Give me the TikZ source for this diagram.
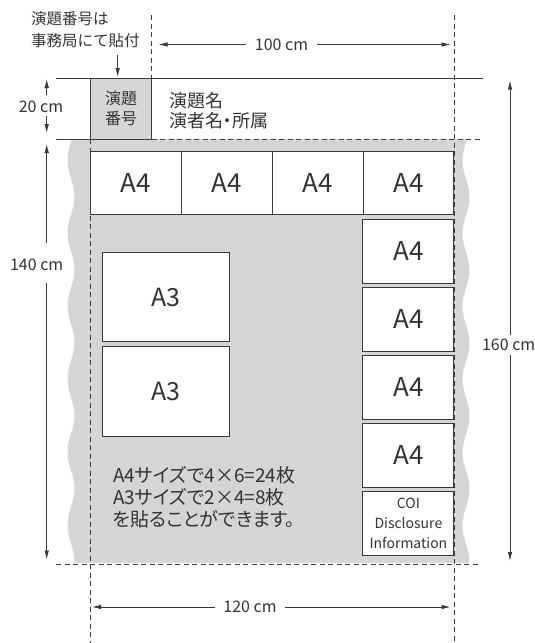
\documentclass[tikz,border=0pt]{standalone}
\usepackage{fontspec}
\setmainfont{Noto Sans CJK JP}
\usetikzlibrary{arrows.meta}

\definecolor{linecol}{HTML}{3A3A3A}
\definecolor{textcol}{HTML}{333333}
\definecolor{panelgray}{HTML}{D4D5D7}
\definecolor{hdrgray}{HTML}{D6D6D8}

\tikzset{
  dimarrow/.style={-{Latex[length=9pt,width=4.5pt]}, line width=0.8pt, draw=linecol},
  dimlabel/.style={font=\fontsize{16}{18}\selectfont, text=textcol, inner sep=0pt},
  guide/.style={draw=linecol, line width=0.8pt, dash pattern=on 5pt off 3.5pt},
  rule/.style={draw=linecol, line width=0.9pt},
  sheet/.style={draw=linecol, fill=white, line width=0.9pt, inner sep=0pt, text=textcol},
  a4box/.style={sheet, minimum width=90.75pt, minimum height=62.8pt,
    font=\fontsize{26}{30}\selectfont},
  a3box/.style={sheet, minimum width=127pt, minimum height=89.4pt,
    font=\fontsize{25}{30}\selectfont},
  hdrbox/.style={sheet, fill=hdrgray, minimum width=60.8pt, minimum height=60.5pt,
    align=center, font=\fontsize{16}{20}\selectfont},
  note/.style={text=textcol, inner sep=0pt, align=left}
}

\begin{document}
\begin{tikzpicture}[x=1pt,y=-1pt]
\useasboundingbox (0,0) rectangle (535,643);

% board area with wavy sides
\fill[panelgray] plot[domain=139:563, samples=120, smooth] ({71-3.5*cos((\x-160)/73*360)}, \x)
  -- plot[domain=563:139, samples=120, smooth] ({466+3.5*cos((\x-197)/73*360)}, \x) -- cycle;

% header rules
\draw[rule] (56,78.5) -- (483,78.5);
\draw[rule] (56,139) -- (151.5,139);
\draw[guide] (151.5,139) -- (481,139);
\draw[guide] (56,564) -- (478,564);

% guide lines
\draw[guide] (151,15) -- (151,78.5);
\draw[guide] (454,15) -- (454,643);
\draw[guide] (90.7,139) -- (90.7,643);

% header
\node[hdrbox] (hbox) at (121.1,108.75) {演題\\番号};
\node[note, anchor=west, font=\fontsize{18}{20.3}\selectfont\addfontfeature{RawFeature=+palt}] (title) at (169,111) {演題名\\演者名・所属};
\node[note, anchor=west, font=\fontsize{15.5}{22}\selectfont] (intro) at (31,30) {演題番号は\\事務局にて貼付};
\coordinate (pinA) at (117.7,54.5);
\coordinate (pinB) at (117.7,77);
\draw[dimarrow] (pinA) -- (pinB);

% A4 sheets, top row
\foreach \i in {0,...,3}
  \node[a4box] (top\i) at ({136.1+90.75*\i},183.1) {A4};

% A4 sheets, right column
\foreach \i in {1,...,4}
  \node[a4box, minimum width=91pt, minimum height=63.5pt] (side\i) at (408.4,{251.25+68*(\i-1)}) {A4};
\node[a4box, minimum width=91pt, minimum height=63.5pt, align=center,
  font=\fontsize{14}{19.7}\selectfont] (coi) at (408.4,523.25) {COI\\Disclosure\\Information};

% A3 sheets
\node[a3box] (big1) at (165.8,297) {A3};
\node[a3box] (big2) at (165.8,391.3) {A3};

\node[note, anchor=west, font=\fontsize{19}{21.7}\selectfont\addfontfeature{RawFeature=+palt}] (count) at (113,497)
  {A4サイズで4×6=24枚\\A3サイズで2×4=8枚\\を貼ることができます。};

% dimensions
\node[dimlabel, inner xsep=9pt] (w100) at (281.5,44.5) {100 cm};
\coordinate (w100l) at (158.5,44.5);
\coordinate (w100r) at (450.5,44.5);
\draw[dimarrow] (w100) -- (w100l);
\draw[dimarrow] (w100) -- (w100r);

\node[dimlabel, inner xsep=8.5pt] (w120) at (250,607) {120 cm};
\coordinate (w120l) at (92,607);
\coordinate (w120r) at (450.5,607);
\draw[dimarrow] (w120) -- (w120l);
\draw[dimarrow] (w120) -- (w120r);

\node[dimlabel] (h20) at (41,107) {20 cm};
\coordinate (h20a) at (46.7,95);
\coordinate (h20t) at (46.7,79);
\coordinate (h20b) at (46.7,116);
\coordinate (h20d) at (46.7,133);
\draw[dimarrow] (h20a) -- (h20t);
\draw[dimarrow] (h20b) -- (h20d);

\node[dimlabel] (h140) at (36.7,265) {140 cm};
\coordinate (h140a) at (46.7,243);
\coordinate (h140t) at (46.7,144);
\coordinate (h140b) at (46.7,283);
\coordinate (h140d) at (46.7,559.5);
\draw[dimarrow] (h140a) -- (h140t);
\draw[dimarrow] (h140b) -- (h140d);

\node[dimlabel] (h160) at (508.7,345) {160 cm};
\coordinate (h160a) at (510,335);
\coordinate (h160t) at (510,80.5);
\coordinate (h160b) at (510,355);
\coordinate (h160d) at (510,561);
\draw[dimarrow] (h160a) -- (h160t);
\draw[dimarrow] (h160b) -- (h160d);
\end{tikzpicture}
\end{document}
